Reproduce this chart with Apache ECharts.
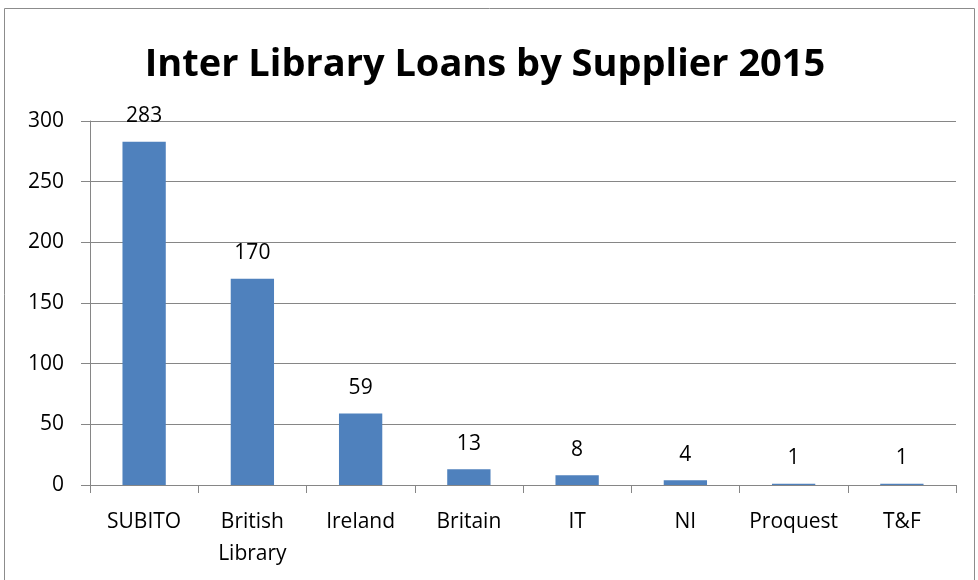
<!DOCTYPE html>
<html>
<head>
<meta charset="utf-8">
<script src="https://cdn.jsdelivr.net/npm/echarts@6/dist/echarts.min.js"></script>
<style>
  html, body { margin: 0; padding: 0; background: #fff; }
  #chart { width: 978px; height: 580px; }
</style>
</head>
<body>
<div id="chart"></div>
<script>
const suppliers = ["SUBITO", "British\nLibrary", "Ireland", "Britain", "IT", "NI", "Proquest", "T&F"];
const loans = [283, 170, 59, 13, 8, 4, 1, 1];
const yTicks = [0, 50, 100, 150, 200, 250, 300];

const font = "'Open Sans', sans-serif";
const chart = echarts.init(document.getElementById("chart"));

chart.setOption({
  animation: false,
  title: {
    text: "Inter Library Loans by Supplier 2015",
    left: 480,
    textAlign: "center",
    top: 41,
    textStyle: { fontFamily: font, fontSize: 38, fontWeight: "bold", color: "#000" },
  },
  graphic: [
    {
      type: "rect",
      shape: { x: 4.5, y: 8.5, width: 970, height: 580 },
      style: { fill: "none", stroke: "#8c8c8c", lineWidth: 1 },
    },
  ],
  grid: { left: 90, right: 22, top: 121, bottom: 95 },
  xAxis: {
    type: "category",
    data: suppliers,
    axisLine: { lineStyle: { color: "#868686" } },
    axisTick: { show: true, length: 8, alignWithLabel: false, lineStyle: { color: "#868686" } },
    axisLabel: {
      interval: 0,
      margin: 21,
      color: "#000",
      fontFamily: font,
      fontSize: 21,
      lineHeight: 32,
    },
  },
  yAxis: {
    type: "value",
    min: yTicks[0],
    max: yTicks[yTicks.length - 1],
    interval: 50,
    axisLine: { show: true, lineStyle: { color: "#868686" } },
    axisTick: { show: true, length: 9, lineStyle: { color: "#868686" } },
    axisLabel: { margin: 26, color: "#000", fontFamily: font, fontSize: 21 },
    splitLine: { lineStyle: { color: "#868686", width: 1 } },
  },
  series: [
    {
      type: "bar",
      data: loans,
      barWidth: "40%",
      itemStyle: { color: "#4F81BD" },
      label: {
        show: true,
        position: "top",
        distance: 15,
        color: "#000",
        fontFamily: font,
        fontSize: 21,
      },
    },
  ],
});
</script>
</body>
</html>
